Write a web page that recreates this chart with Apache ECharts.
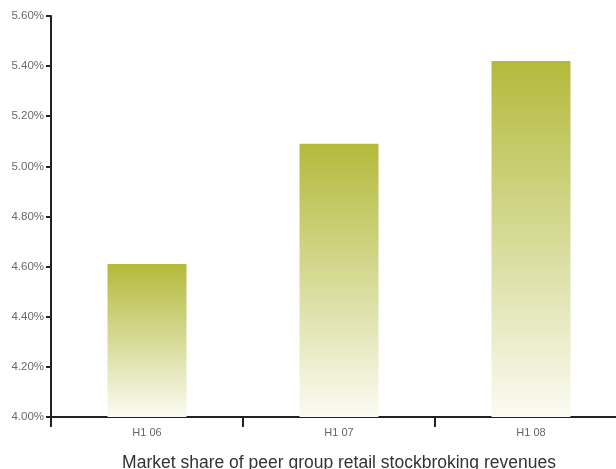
<!DOCTYPE html>
<html><head><meta charset="utf-8">
<script src="https://cdn.jsdelivr.net/npm/echarts@6/dist/echarts.min.js"></script>
<style>html,body{margin:0;padding:0;background:#fff}#c{width:616px;height:469px}</style>
</head><body><div id="c"></div>
<script>
const categories = ["H1 06", "H1 07", "H1 08"];
const marketShare = [4.61, 5.09, 5.42];
const yMin = 4.0, yMax = 5.6, yStep = 0.2;
const xTitle = "Market share of peer group retail stockbroking revenues";

const chart = echarts.init(document.getElementById('c'), null, {renderer: 'canvas'});
chart.setOption({
  animation: false,
  backgroundColor: '#fff',
  grid: {left: 51, right: -11, top: 16, bottom: 52, containLabel: false, outerBoundsMode: 'none'},
  xAxis: {
    type: 'category', data: categories,
    axisLine: {lineStyle: {color: '#222', width: 2}},
    axisTick: {show: true, length: 10, lineStyle: {color: '#222', width: 2}},
    axisLabel: {color: '#666', fontSize: 11, fontFamily: 'Liberation Sans', margin: 10},
    name: xTitle, nameLocation: 'middle', nameGap: 37,
    nameTextStyle: {color: '#333', fontSize: 17.5, fontFamily: 'Liberation Sans'}
  },
  yAxis: {
    type: 'value', min: yMin, max: yMax, interval: yStep,
    axisLine: {show: true, lineStyle: {color: '#222', width: 2}},
    axisTick: {show: true, length: 5, lineStyle: {color: '#222', width: 2}},
    splitLine: {show: false},
    axisLabel: {color: '#6a6a6a', fontSize: 11.5, fontFamily: 'Liberation Sans', margin: 7,
      formatter: v => v.toFixed(2) + '%'}
  },
  series: [{
    type: 'bar', data: marketShare, barWidth: 79,
    itemStyle: {color: new echarts.graphic.LinearGradient(0, 0, 0, 1, [
      {offset: 0, color: '#b3ba3b'},
      {offset: 1, color: '#fbfbf3'}
    ])}
  }]
});
</script></body></html>
